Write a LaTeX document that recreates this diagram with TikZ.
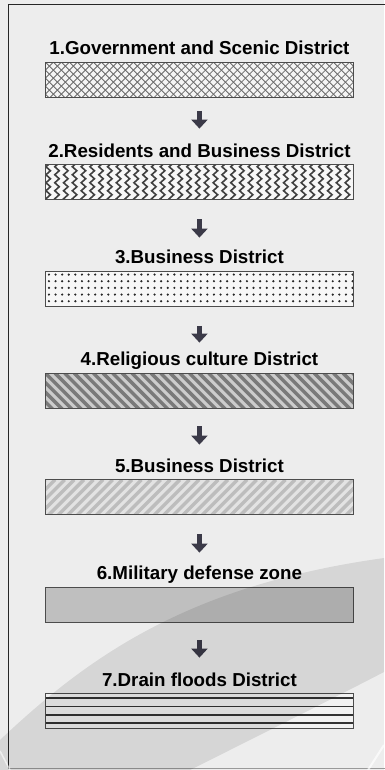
\documentclass[tikz,border=0pt]{standalone}
\usepackage{fontspec}
\setmainfont{Liberation Sans}
\usetikzlibrary{positioning,arrows.meta}

\definecolor{pagegray}{HTML}{EDEDED}
\definecolor{arrowgray}{HTML}{3B3A48}

\begin{document}
\begin{tikzpicture}[x=1pt,y=-1pt,
		box/.style={draw=black!70, line width=0.9pt, minimum width=308pt, minimum height=35pt, inner sep=0pt, anchor=north west},
		title/.style={font=\bfseries\fontsize{18.75}{20}\selectfont, inner sep=0pt, text height=14pt, text depth=0pt},
		down/.style={draw=arrowgray, line width=5.7pt, -{Triangle[width=16pt,length=9pt]}},
		crosshatch/.style={fill=white!96!black, path picture={
			\foreach \k in {-5,...,45}{
				\draw[black!58, line width=0.85pt] ([xshift=\k*8pt]path picture bounding box.north west) -- ++(40pt,-40pt);
				\draw[black!58, line width=0.85pt] ([xshift=\k*8pt]path picture bounding box.north west) -- ++(-40pt,-40pt);
			}}},
		zigzag/.style={fill=white!97!black, path picture={
			\foreach \k in {0,...,35}
				\draw[black!75, line width=1.6pt, line join=miter] ([shift={(\k*8.8pt+5pt,2pt)}]path picture bounding box.north west)
					\foreach \j in {1,...,6}{ -- ++(-4.5pt,-4pt) -- ++(4.5pt,-4pt)};
			}},
		dotted grid/.style={fill=white!97!black, path picture={
			\foreach \i in {0,...,46}
				\foreach \j in {0,...,4}
					\fill[black!85] ([shift={(\i*6.6pt+3.5pt,-\j*6.67pt-3.4pt)}]path picture bounding box.north west) circle (1.2pt);
			}},
		dark stripes/.style={fill=black!20, path picture={
			\foreach \k in {-5,...,36}
				\draw[black!52, line width=3.4pt] ([xshift=\k*9.6pt]path picture bounding box.north west) -- ++(40pt,-40pt);
			}},
		light stripes/.style={fill=black!11, path picture={
			\foreach \k in {0,...,40}
				\draw[black!26, line width=3.4pt] ([xshift=\k*9.6pt]path picture bounding box.north west) -- ++(-40pt,-40pt);
			}},
		plain/.style={fill=black!25},
		lined/.style={fill=white!95!black, path picture={
			\foreach \d in {4.2,12.6,21,29.4}
				\draw[black!80, line width=1.5pt] ([yshift=-\d pt]path picture bounding box.north west) -- ([yshift=-\d pt]path picture bounding box.north east);
			}}]
		
		\fill[pagegray] (0,0) rectangle (384,770);
		\useasboundingbox (0,0) rectangle (384,770);
		
		% districts
		\node[box, crosshatch] (b1) at (45,61.7) {};
		\node[box, zigzag] (b2) at (45,164.3) {};
		\node[box, dotted grid] (b3) at (45,270.7) {};
		\node[box, dark stripes] (b4) at (45,372.7) {};
		\node[box, light stripes] (b5) at (45,479.3) {};
		\node[box, plain] (b6) at (45,586.7) {};
		\node[box, lined] (b7) at (45,693.3) {};
		
		\node[title, above=7pt of b1] (t1) {1.Government and Scenic District};
		\node[title, above=7pt of b2] (t2) {2.Residents and Business District};
		\node[title, above=7pt of b3] (t3) {3.Business District};
		\node[title, above=7pt of b4] (t4) {4.Religious culture District};
		\node[title, above=7pt of b5] (t5) {5.Business District};
		\node[title, above=7pt of b6] (t6) {6.Military defense zone};
		\node[title, above=7pt of b7] (t7) {7.Drain floods District};
		
		\draw[down, shorten <=13.3pt, shorten >=14.3pt] (b1) -- (t2);
		\draw[down, shorten <=19pt, shorten >=11.7pt] (b2) -- (t3);
		\draw[down, shorten <=19.3pt, shorten >=8.7pt] (b3) -- (t4);
		\draw[down, shorten <=17.7pt, shorten >=13.3pt] (b4) -- (t5);
		\draw[down, shorten <=18.7pt, shorten >=12.7pt] (b5) -- (t6);
		\draw[down, shorten <=17.3pt, shorten >=14.3pt] (b6) -- (t7);
		
		% frame, open on the right
		\draw[black!85, line width=1.5pt] (400,4.5) -- (8.5,4.5) -- (8.5,768.5);
		\draw[black!40, line width=1.2pt] (8.5,768.8) -- (400,768.8);
		
		% swoosh
		\fill[black, fill opacity=0.095] (0,740) .. controls (90,655) and (190,585) .. (384,558) -- (384,672) .. controls (330,700) and (240,745) .. (190,770) -- (0,770) -- cycle;
		\draw[white, opacity=0.7, line width=2pt] (384,745) -- (368,770);
		\draw[white, opacity=0.6, line width=1.5pt] (0,751) -- (10,770);
	\end{tikzpicture}
\end{document}
